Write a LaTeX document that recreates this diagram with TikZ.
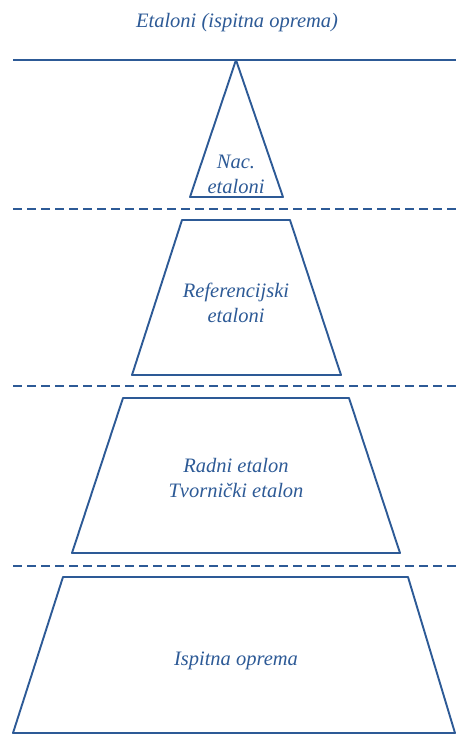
\documentclass[tikz,border=0pt]{standalone}
\usepackage{fontspec}
\setmainfont{Liberation Serif}
\usepackage{tikz}
\definecolor{ebl}{HTML}{2D5A96}

\begin{document}
\begin{tikzpicture}[x=1pt,y=-1pt,
	every node/.style={align=center,
    					text=ebl,
                        font=\fontsize{20.5}{25}\selectfont\itshape,
                        inner sep=1pt
                        },
	level/.style= {draw=ebl,
    			  line width=1.9pt,
                  line join=round
    },
	sep/.style= {draw=ebl,
    			  line width=1.4pt,
                  dash pattern=on 9pt off 5pt
    }
]
	\useasboundingbox (0,0) rectangle (456,734);
	\node (title) at (237,23) {Etaloni (ispitna oprema)};
    \draw[level] (13,60) -- (456,60);
    % levels of the pyramid
    \draw[level] (236,60) -- (283,197) -- (190,197) -- cycle;
    \draw[sep] (13,209) -- (456,209);
    \draw[level] (182,220) -- (290,220) -- (341,375) -- (132,375) -- cycle;
    \draw[sep] (13,386) -- (456,386);
    \draw[level] (123,398) -- (349,398) -- (400,553) -- (72,553) -- cycle;
    \draw[sep] (13,566) -- (456,566);
    \draw[level] (63,577) -- (408,577) -- (455,733) -- (13,733) -- cycle;
    % texts
    \node (nac) at (236,174) {Nac.\\etaloni};
    \node (ref) at (236,303) {Referencijski\\etaloni};
    \node (radni) at (236,478) {Radni etalon\\Tvornički etalon};
    \node (ispit) at (236,661) {Ispitna oprema};
\end{tikzpicture}
\end{document}
